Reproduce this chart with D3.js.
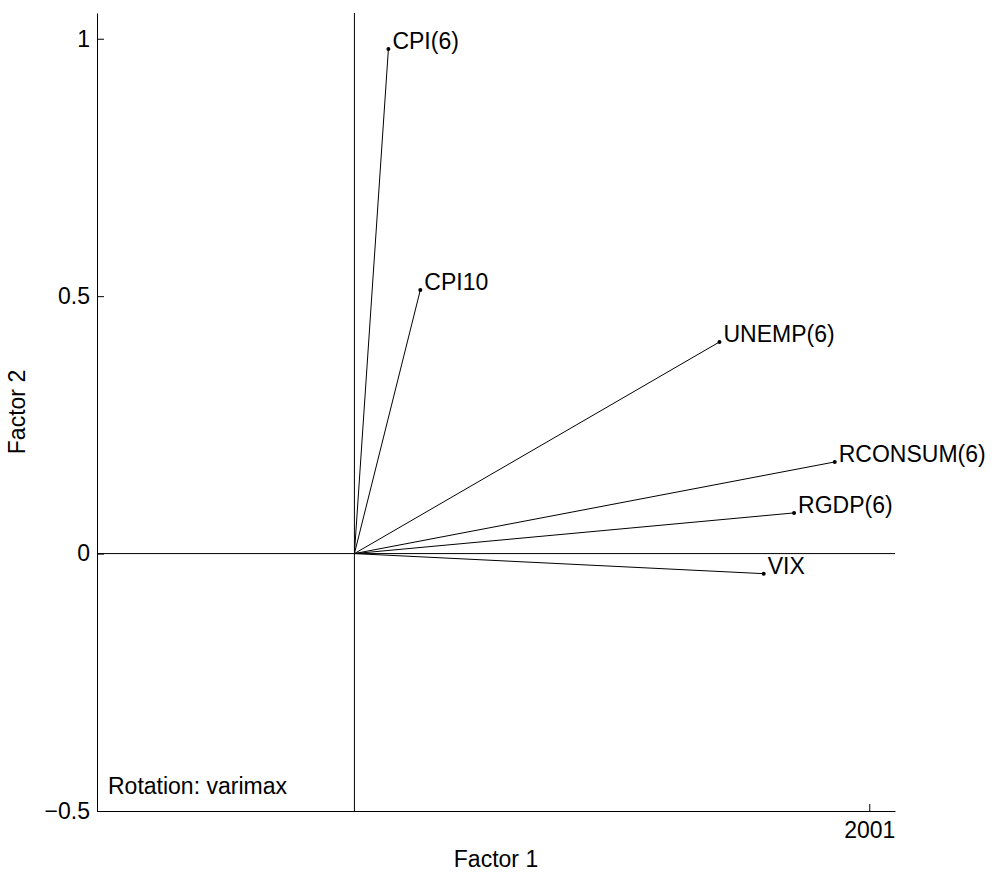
<!DOCTYPE html>
<html>
<head>
<meta charset="utf-8">
<script src="https://cdn.jsdelivr.net/npm/d3@7"></script>
<style>
  body { margin: 0; background: #fff; }
  text { font-family: "Liberation Sans", Arial, Helvetica, sans-serif; fill: #000; }
</style>
</head>
<body>
<script>
var variables = ["CPI(6)", "CPI10", "UNEMP(6)", "RCONSUM(6)", "RGDP(6)", "VIX"]
var factor1 = [0.066, 0.128, 0.709, 0.933, 0.854, 0.795]
var factor2 = [0.980, 0.512, 0.411, 0.178, 0.079, -0.039]
var yTicks = [-0.5, 0, 0.5, 1]
var yTickLabels = ["\u22120.5", "0", "0.5", "1"]
var xTicks = [1]
var xTickLabels = ["2001"]

var margin = {top: 13, left: 97, right: 98, bottom: 65},
    w = 993 - margin.left - margin.right,
    h = 876 - margin.top - margin.bottom

var fs = 23

var svg = d3.select("body").append("svg")
    .attr("width", 993).attr("height", 876)
  .append("g")
    .attr("transform", `translate(${margin.left}, ${margin.top})`)

var x = d3.scaleLinear().domain([-0.5, 1.05]).range([0, w])
var y = d3.scaleLinear().domain([-0.5, 1.05]).range([h, 0])

var data = variables.map(function(v, i){ return {name: v, f1: factor1[i], f2: factor2[i]} })

// zero lines
svg.append("line")
    .attr("x1", x(-0.5)).attr("x2", x(1.05))
    .attr("y1", y(0)).attr("y2", y(0))
    .attr("stroke", "#000").attr("stroke-width", 1)
svg.append("line")
    .attr("x1", x(0)).attr("x2", x(0))
    .attr("y1", y(-0.5)).attr("y2", y(1.05))
    .attr("stroke", "#000").attr("stroke-width", 1)

// loadings
svg.selectAll(".vec").data(data).enter()
  .append("line")
    .attr("class", "vec")
    .attr("x1", x(0)).attr("y1", y(0))
    .attr("x2", function(d){ return x(d.f1) })
    .attr("y2", function(d){ return y(d.f2) })
    .attr("stroke", "#000").attr("stroke-width", 1)

svg.selectAll(".pt").data(data).enter()
  .append("circle")
    .attr("class", "pt")
    .attr("cx", function(d){ return x(d.f1) })
    .attr("cy", function(d){ return y(d.f2) })
    .attr("r", 2)
    .attr("fill", "#000")

svg.selectAll(".lbl").data(data).enter()
  .append("text")
    .attr("class", "lbl")
    .attr("x", function(d){ return x(d.f1) + 4 })
    .attr("y", function(d){ return y(d.f2) })
    .style("font-size", fs + "px")
    .text(function(d){ return d.name })

// axes
svg.append("g")
    .call(d3.axisLeft(y).tickValues(yTicks)
      .tickFormat(function(d, i){ return yTickLabels[i] })
      .tickSizeInner(-7).tickSizeOuter(0).tickPadding(7))
svg.append("g")
    .attr("transform", `translate(0, ${h})`)
    .call(d3.axisBottom(x).tickValues(xTicks)
      .tickFormat(function(d, i){ return xTickLabels[i] })
      .tickSizeInner(-7).tickSizeOuter(0).tickPadding(11))

svg.selectAll(".domain, .tick line").attr("stroke", "#000")
svg.selectAll(".tick text").style("font-size", fs + "px")
  .style("font-family", '"Liberation Sans", Arial, sans-serif').attr("fill", "#000")

// labels
svg.append("text")
    .attr("x", w / 2).attr("y", h + 56)
    .attr("text-anchor", "middle")
    .style("font-size", fs + "px")
    .text("Factor 1")

svg.append("text")
    .attr("transform", `translate(${-72}, ${h / 2}) rotate(-90)`)
    .attr("text-anchor", "middle")
    .style("font-size", fs + "px")
    .text("Factor 2")

svg.append("text")
    .attr("x", 11).attr("y", h - 17)
    .style("font-size", fs + "px")
    .text("Rotation: varimax")
</script>
</body>
</html>
